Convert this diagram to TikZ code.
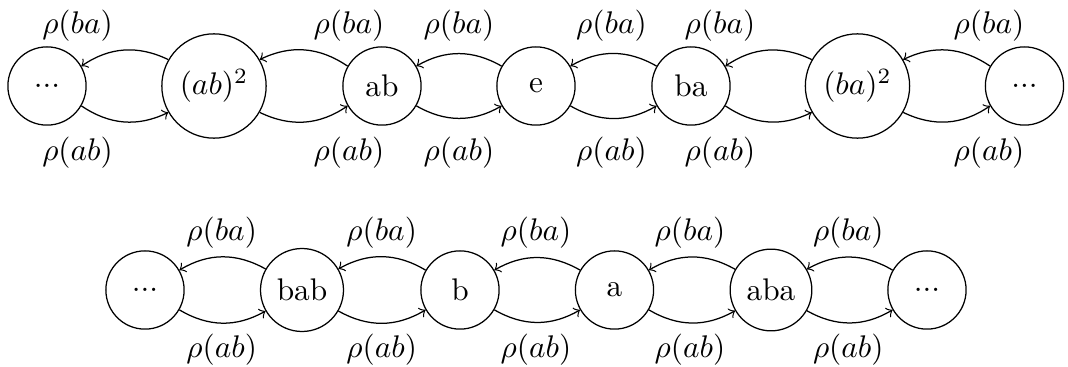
\documentclass[tikz,border=0pt]{standalone}
\begin{document}
\begin{tikzpicture}[x=0.3195pt,y=-0.3195pt,
  stnode/.style={circle,draw,line width=0.4pt,minimum size=2.5em,inner sep=0.3333em},
  lbl/.style={inner sep=0pt},
  conn/.style={->,line width=0.4pt,bend right=30}]
\useasboundingbox (0,0) rectangle (1068,367);
% top row
\node[stnode] (t1) at (47,86) {...};
\node[stnode] (t2) at (214,86) {$(ab)^2$};
\node[stnode] (t3) at (382,86) {ab};
\node[stnode] (t4) at (536,86) {e};
\node[stnode] (t5) at (691,86) {ba};
\node[stnode] (t6) at (857.5,86) {$(ba)^2$};
\node[stnode] (t7) at (1024.5,86) {...};
% bottom row
\node[stnode] (b1) at (145,290) {...};
\node[stnode] (b2) at (302,290) {bab};
\node[stnode] (b3) at (460,290) {b};
\node[stnode] (b4) at (614.5,290) {a};
\node[stnode] (b5) at (771,290) {aba};
\node[stnode] (b6) at (927,290) {...};
% connectors top row
\foreach \l/\r in {t1/t2,t2/t3,t3/t4,t4/t5,t5/t6,t6/t7,b1/b2,b2/b3,b3/b4,b4/b5,b5/b6}{
  \draw[conn] (\r) to (\l);
  \draw[conn] (\l) to (\r);
}
% labels top row
\foreach \n/\x in {1/77.5,2/349,3/459,4/611.5,5/720,6/989}{
  \node[lbl] (tu\n) at (\x,26) {$\rho(ba)$};
  \node[lbl] (td\n) at (\x,153) {$\rho(ab)$};
}
% labels bottom row
\foreach \n/\x in {1/221.7,2/381.7,3/536,4/690,5/848.3}{
  \node[lbl] (bu\n) at (\x,233) {$\rho(ba)$};
  \node[lbl] (bd\n) at (\x,350) {$\rho(ab)$};
}
\end{tikzpicture}
\end{document}
